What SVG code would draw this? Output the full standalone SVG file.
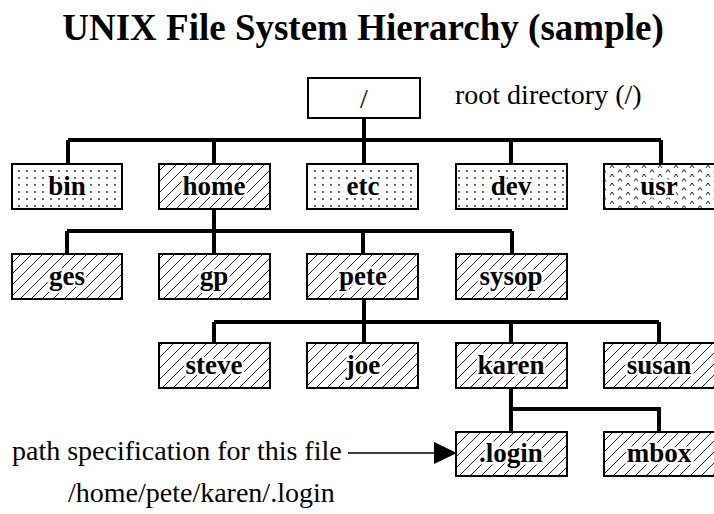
<svg xmlns="http://www.w3.org/2000/svg" width="714" height="514" viewBox="0 0 714 514">
<defs>
<pattern id="hatch" patternUnits="userSpaceOnUse" width="11" height="11">
<path d="M0,11 L11,0 M-2,2 L2,-2 M9,13 L13,9" stroke="#222" stroke-width="1"/>
</pattern>
<pattern id="dots" patternUnits="userSpaceOnUse" width="8" height="7">
<circle cx="3" cy="3" r="0.9" fill="#222"/>
</pattern>
<pattern id="carets" patternUnits="userSpaceOnUse" width="16" height="9">
<path d="M2,6 L4,3 L6,6 M10,10 L12,7.5 L14,10" stroke="#222" stroke-width="1" fill="none"/>
<path d="M10,1.5 L12,-1 L14,1.5" stroke="#222" stroke-width="1" fill="none"/>
</pattern>
<marker id="arrow" markerWidth="23" markerHeight="22" refX="22" refY="11" orient="auto" markerUnits="userSpaceOnUse">
<path d="M0,0 L23,11 L0,22 Z" fill="#000"/>
</marker>
</defs>
<style>
.box{stroke:#000;stroke-width:2}
.h{fill:url(#hatch)}
.d{fill:url(#dots)}
.c{fill:url(#carets)}
.lbl{font-family:"Liberation Serif",serif;font-weight:bold;font-size:27px;text-anchor:middle;fill:#000;stroke:#fff;stroke-width:5;paint-order:stroke;stroke-linejoin:round}
.txt{font-family:"Liberation Serif",serif;font-size:28px;fill:#000}
.conn{stroke:#000;stroke-width:4;fill:none}
</style>
<rect width="714" height="514" fill="#fff"/>
<text x="363" y="40" font-family="Liberation Serif,serif" font-weight="bold" font-size="37" text-anchor="middle">UNIX File System Hierarchy (sample)</text>
<text class="txt" x="455" y="104">root directory (/)</text>
<g id="connectors">
<path class="conn" d="M364,118 V140 M68,140 H661 M68,140 V164 M214,140 V164 M364,140 V164 M511,140 V164 M661,140 V164"/>
<path class="conn" d="M214,209 V231 M67,231 H512 M67,231 V254 M214,231 V254 M363,231 V254 M512,231 V254"/>
<path class="conn" d="M364,299 V322 M214,322 H659 M214,322 V343 M364,322 V343 M511,322 V343 M659,322 V343"/>
<path class="conn" d="M511,388 V432 M511,409 H659 V432"/>
<line x1="348" y1="453" x2="456" y2="453" stroke="#000" stroke-width="1.5" marker-end="url(#arrow)"/>
</g>
<g id="root"><rect x="308" y="78" width="112" height="40" fill="#fff" class="box"/><text class="txt" x="364" y="108" text-anchor="middle">/</text></g>
<g id="bin"><rect class="box d" x="12" y="164" width="110" height="45"/><text class="lbl" x="67" y="195">bin</text></g>
<g id="home"><rect class="box h" x="159" y="164" width="111" height="45"/><text class="lbl" x="214" y="195">home</text></g>
<g id="etc"><rect class="box d" x="307" y="164" width="111" height="45"/><text class="lbl" x="363" y="195">etc</text></g>
<g id="dev"><rect class="box d" x="456" y="164" width="111" height="45"/><text class="lbl" x="511" y="195">dev</text></g>
<g id="usr"><rect class="box c" x="604" y="164" width="112" height="45"/><text class="lbl" x="659" y="195">usr</text></g>
<g id="ges"><rect class="box h" x="12" y="254" width="110" height="45"/><text class="lbl" x="67" y="285">ges</text></g>
<g id="gp"><rect class="box h" x="159" y="254" width="111" height="45"/><text class="lbl" x="214" y="285">gp</text></g>
<g id="pete"><rect class="box h" x="307" y="254" width="111" height="45"/><text class="lbl" x="363" y="285">pete</text></g>
<g id="sysop"><rect class="box h" x="456" y="254" width="111" height="45"/><text class="lbl" x="511" y="285">sysop</text></g>
<g id="steve"><rect class="box h" x="159" y="343" width="111" height="45"/><text class="lbl" x="214" y="374">steve</text></g>
<g id="joe"><rect class="box h" x="307" y="343" width="111" height="45"/><text class="lbl" x="363" y="374">joe</text></g>
<g id="karen"><rect class="box h" x="456" y="343" width="111" height="45"/><text class="lbl" x="511" y="374">karen</text></g>
<g id="susan"><rect class="box h" x="604" y="343" width="112" height="45"/><text class="lbl" x="659" y="374">susan</text></g>
<g id="login"><rect class="box h" x="456" y="432" width="111" height="44"/><text class="lbl" x="511" y="462">.login</text></g>
<g id="mbox"><rect class="box h" x="604" y="432" width="112" height="44"/><text class="lbl" x="659" y="462">mbox</text></g>
<text class="txt" x="12" y="460" font-size="27.4">path specification for this file</text>
<text class="txt" x="68" y="502">/home/pete/karen/.login</text>
</svg>
